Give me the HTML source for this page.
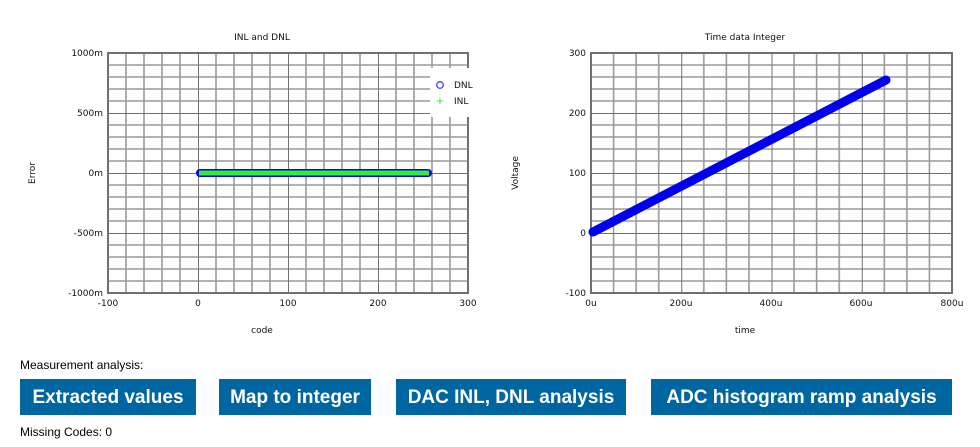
<!DOCTYPE html>
<html><head><meta charset="utf-8"><style>
body{margin:0;background:#fff;width:980px;height:447px;overflow:hidden;font-family:"Liberation Sans",sans-serif}
.btn{position:absolute;top:379px;height:36px;background:#0066a1;color:#fff;font-weight:bold;font-size:19px;line-height:37px;text-align:center}
.t{position:absolute;font-size:12px;color:#000}
</style></head><body>
<svg width="980" height="350" style="position:absolute;left:0;top:0" font-family="DejaVu Sans, Liberation Sans, sans-serif" fill="#111">
<defs>
<pattern id="pl" x="108" y="53" width="90" height="60" patternUnits="userSpaceOnUse">
<g stroke="#9a9a9a" stroke-width="1.6"><line x1="18" y1="0" x2="18" y2="60"/><line x1="36" y1="0" x2="36" y2="60"/><line x1="54" y1="0" x2="54" y2="60"/><line x1="72" y1="0" x2="72" y2="60"/>
<line x1="0" y1="12" x2="90" y2="12"/><line x1="0" y1="24" x2="90" y2="24"/><line x1="0" y1="36" x2="90" y2="36"/><line x1="0" y1="48" x2="90" y2="48"/></g>
<g stroke="#707070" stroke-width="2"><line x1="0" y1="0" x2="0" y2="60"/><line x1="0" y1="0" x2="90" y2="0"/></g>
</pattern>
<pattern id="pr" x="591" y="53" width="90.25" height="60" patternUnits="userSpaceOnUse">
<g stroke="#9a9a9a" stroke-width="1.6"><line x1="22.56" y1="0" x2="22.56" y2="60"/><line x1="45.12" y1="0" x2="45.12" y2="60"/><line x1="67.7" y1="0" x2="67.7" y2="60"/>
<line x1="0" y1="12" x2="91" y2="12"/><line x1="0" y1="24" x2="91" y2="24"/><line x1="0" y1="36" x2="91" y2="36"/><line x1="0" y1="48" x2="91" y2="48"/></g>
<g stroke="#707070" stroke-width="2"><line x1="0" y1="0" x2="0" y2="60"/><line x1="0" y1="0" x2="91" y2="0"/></g>
</pattern>
</defs>
<rect x="108" y="53" width="360" height="240" fill="url(#pl)"/>
<rect x="108" y="53" width="360" height="240" fill="none" stroke="#707070" stroke-width="2"/>
<text x="262" y="40" font-size="9" text-anchor="middle">INL and DNL</text>
<g font-size="9" text-anchor="end"><text x="103" y="56">1000m</text><text x="103" y="116">500m</text><text x="103" y="176">0m</text><text x="103" y="236">-500m</text><text x="103" y="296">-1000m</text></g>
<g font-size="9" text-anchor="middle"><text x="108" y="306">-100</text><text x="198" y="306">0</text><text x="288" y="306">100</text><text x="378" y="306">200</text><text x="468" y="306">300</text></g>
<text x="262" y="333" font-size="9" text-anchor="middle">code</text>
<text transform="translate(35,173) rotate(-90)" font-size="9" text-anchor="middle">Error</text>
<rect x="196" y="169" width="236" height="8" rx="4" fill="#0000ff"/>
<rect x="199" y="170.5" width="230" height="5" fill="#33ee33"/>
<rect x="430" y="68" width="50" height="49" fill="#fff"/>
<circle cx="440" cy="85" r="3.3" fill="none" stroke="#4444ff" stroke-width="1.3"/>
<text x="440" y="104" font-size="10" fill="#33dd33" text-anchor="middle">+</text>
<text x="454" y="88" font-size="9">DNL</text><text x="454" y="104" font-size="9">INL</text>
<rect x="591" y="53" width="361" height="240" fill="url(#pr)"/>
<rect x="591" y="53" width="361" height="240" fill="none" stroke="#707070" stroke-width="2"/>
<text x="745" y="40" font-size="9" text-anchor="middle">Time data Integer</text>
<g font-size="9" text-anchor="end"><text x="586" y="56">300</text><text x="586" y="116">200</text><text x="586" y="176">100</text><text x="586" y="236">0</text><text x="586" y="296">-100</text></g>
<g font-size="9" text-anchor="middle"><text x="591" y="306">0u</text><text x="681" y="306">200u</text><text x="771" y="306">400u</text><text x="861" y="306">600u</text><text x="952" y="306">800u</text></g>
<text x="745" y="333" font-size="9" text-anchor="middle">time</text>
<text transform="translate(518,173) rotate(-90)" font-size="9" text-anchor="middle">Voltage</text>
<line x1="593" y1="232" x2="886" y2="80" stroke="#0000ee" stroke-width="9" stroke-linecap="round"/>
</svg>
<div class="t" style="left:20px;top:358px">Measurement analysis:</div>
<div class="btn" style="left:20px;width:176px">Extracted values</div>
<div class="btn" style="left:219px;width:152px">Map to integer</div>
<div class="btn" style="left:396px;width:230px">DAC INL, DNL analysis</div>
<div class="btn" style="left:651px;width:301px">ADC histogram ramp analysis</div>
<div class="t" style="left:20px;top:425px">Missing Codes: 0</div>
</body></html>
